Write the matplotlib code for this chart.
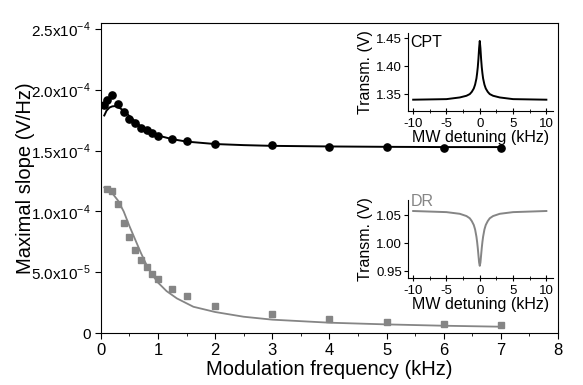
import matplotlib
matplotlib.use('Agg')
import matplotlib.pyplot as plt
import numpy as np
from matplotlib.ticker import FixedLocator, FixedFormatter, MultipleLocator

plt.rcParams['font.family'] = ['Liberation Sans', 'DejaVu Sans']
plt.rcParams['mathtext.fontset'] = 'custom'
plt.rcParams['mathtext.rm'] = 'Liberation Sans'

# CPT measured slopes (black circles)
cpt_f = [0.05, 0.1, 0.2, 0.3, 0.4, 0.5, 0.6, 0.7, 0.8, 0.9, 1.0, 1.25, 1.5, 2, 3, 4, 5, 6, 7]
cpt_s = [1.88e-4, 1.92e-4, 1.955e-4, 1.885e-4, 1.82e-4, 1.76e-4, 1.725e-4, 1.69e-4, 1.67e-4,
         1.642e-4, 1.623e-4, 1.60e-4, 1.577e-4, 1.557e-4, 1.543e-4, 1.533e-4, 1.53e-4, 1.525e-4, 1.524e-4]
# CPT fit curve
cpt_fit_f = [0.06, 0.1, 0.15, 0.2, 0.25, 0.3, 0.4, 0.5, 0.6, 0.7, 0.8, 0.9, 1.0, 1.25, 1.5, 2, 2.5, 3, 4, 5, 6, 7]
cpt_fit_s = [1.79e-4, 1.83e-4, 1.855e-4, 1.865e-4, 1.867e-4, 1.86e-4, 1.83e-4, 1.785e-4, 1.74e-4, 1.70e-4,
             1.67e-4, 1.645e-4, 1.625e-4, 1.595e-4, 1.575e-4, 1.555e-4, 1.546e-4, 1.54e-4, 1.535e-4,
             1.532e-4, 1.53e-4, 1.53e-4]

# DR measured slopes (grey squares)
dr_f = [0.1, 0.2, 0.3, 0.4, 0.5, 0.6, 0.7, 0.8, 0.9, 1.0, 1.25, 1.5, 2, 3, 4, 5, 6, 7]
dr_s = [1.182e-4, 1.168e-4, 1.058e-4, 9.07e-5, 7.87e-5, 6.83e-5, 6.0e-5, 5.4e-5, 4.85e-5, 4.44e-5,
        3.59e-5, 3.02e-5, 2.22e-5, 1.54e-5, 1.13e-5, 9.3e-6, 7.7e-6, 6.6e-6]
dr_fit_f = [0.06, 0.1, 0.2, 0.3, 0.4, 0.45, 0.5, 0.6, 0.7, 0.8, 0.9, 1.0, 1.15, 1.33, 1.62, 2.0, 2.5, 3.0, 4, 5, 6, 7]
dr_fit_s = [1.198e-4, 1.19e-4, 1.15e-4, 1.09e-4, 1.0e-4, 9.4e-5, 8.8e-5, 7.7e-5, 6.6e-5, 5.6e-5, 4.8e-5,
            4.15e-5, 3.45e-5, 2.85e-5, 2.16e-5, 1.73e-5, 1.34e-5, 1.1e-5, 8.5e-6, 7.1e-6, 6.0e-6, 5.2e-6]

yticks = [0, 5e-5, 1e-4, 1.5e-4, 2e-4, 2.5e-4]
yticklabels = ['0', '5.0x10$^{-5}$', '1.0x10$^{-4}$', '1.5x10$^{-4}$', '2.0x10$^{-4}$', '2.5x10$^{-4}$']

# inset spectra
det = [-10, -5, -3, -2, -1.5, -1.2, -0.9, -0.7, -0.5, -0.4, -0.3, -0.2, -0.1, 0,
       0.1, 0.2, 0.3, 0.4, 0.5, 0.7, 0.9, 1.2, 1.5, 2, 3, 5, 10]
cpt_tr = [1.340, 1.341, 1.344, 1.347, 1.350, 1.354, 1.360, 1.367, 1.378, 1.387, 1.398, 1.413, 1.432, 1.445,
          1.432, 1.413, 1.398, 1.387, 1.378, 1.367, 1.360, 1.354, 1.350, 1.347, 1.344, 1.341, 1.340]
dr_tr = [1.058, 1.056, 1.053, 1.049, 1.045, 1.040, 1.033, 1.025, 1.012, 1.003, 0.992, 0.979, 0.966, 0.960,
         0.966, 0.979, 0.992, 1.003, 1.012, 1.025, 1.033, 1.040, 1.045, 1.049, 1.053, 1.056, 1.058]

grey = '#858585'

fig = plt.figure(figsize=(5.83, 3.85), dpi=100)
ax = fig.add_axes([0.173, 0.135, 0.784, 0.805])
ax.plot(cpt_fit_f, cpt_fit_s, color='black', lw=1.4)
ax.plot(cpt_f, cpt_s, 'o', color='black', ms=5.2)
ax.plot(dr_fit_f, dr_fit_s, color=grey, lw=1.3)
ax.plot(dr_f, dr_s, 's', color=grey, ms=4.5)
ax.set_xlim(0, 8)
ax.set_ylim(0, 2.55e-4)
ax.xaxis.set_major_locator(MultipleLocator(1))
ax.xaxis.set_minor_locator(MultipleLocator(0.5))
ax.yaxis.set_major_locator(FixedLocator(yticks))
ax.yaxis.set_major_formatter(FixedFormatter(yticklabels))
ax.tick_params(labelsize=11, direction='out', length=4)
ax.tick_params(axis='x', labelsize=12)
ax.tick_params(which='minor', direction='out', length=2.5)
ax.set_xlabel('Modulation frequency (kHz)', fontsize=14.5, labelpad=1)
ax.set_ylabel('Maximal slope (V/Hz)', fontsize=14.5)
ax.yaxis.set_label_coords(-0.145, 0.5)

def inset(rect, y, color, ylim, yt, ytl, name, ty):
    a = fig.add_axes(rect)
    a.plot(det, y, color=color, lw=1.4)
    a.set_xlim(-10.85, 10.95)
    a.set_ylim(*ylim)
    a.spines['top'].set_visible(False)
    a.spines['right'].set_visible(False)
    a.set_xticks([-10, -5, 0, 5, 10])
    a.set_xticklabels(['-10', '-5', '0', '5', '10'])
    a.xaxis.set_minor_locator(MultipleLocator(2.5))
    a.set_yticks(yt)
    a.set_yticklabels(ytl)
    a.tick_params(axis='x', direction='inout', length=4, labelsize=9.5, pad=3)
    a.tick_params(axis='x', which='minor', direction='inout', length=2.5)
    a.tick_params(axis='y', direction='out', length=3, labelsize=9.5, pad=1)
    a.set_xlabel('MW detuning (kHz)', fontsize=11.5, labelpad=0)
    a.set_ylabel('Transm. (V)', fontsize=11.5, labelpad=2)
    a.text(0.02, ty, name, transform=a.transAxes, color=color, fontsize=11.5, va='top', ha='left')
    a.patch.set_alpha(0)
    return a

inset([0.699, 0.712, 0.249, 0.202], cpt_tr, 'black', (1.32, 1.459),
      [1.35, 1.40, 1.45], ['1.35', '1.40', '1.45'], 'CPT', 0.98)
inset([0.699, 0.279, 0.249, 0.202], dr_tr, grey, (0.939, 1.078),
      [0.95, 1.00, 1.05], ['0.95', '1.00', '1.05'], 'DR', 1.07)

fig.savefig('out.png', dpi=100)
